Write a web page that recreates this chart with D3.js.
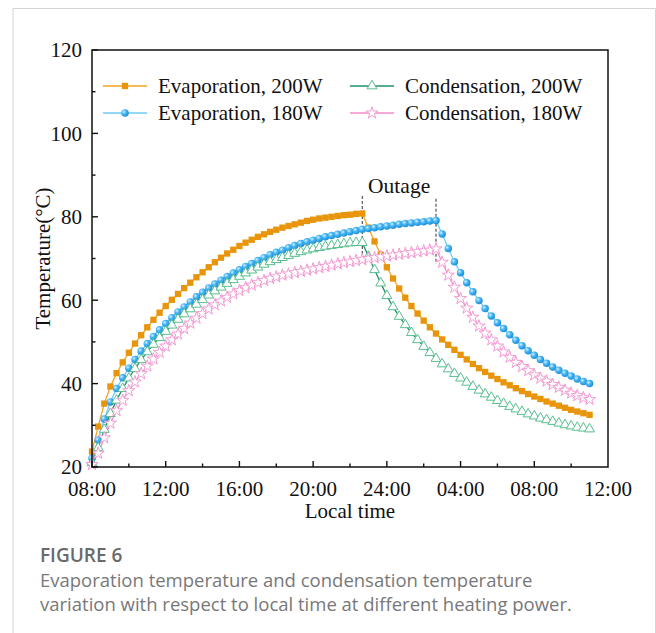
<!DOCTYPE html>
<html>
<head>
<meta charset="utf-8">
<script src="https://cdn.jsdelivr.net/npm/d3@7/dist/d3.min.js"></script>
<style>
  body { margin: 0; background: #fff; }
  svg text { font-family: "Liberation Serif", "Times New Roman", serif; fill: #111; }
  .caption { font-family: "Open Sans", "Noto Sans", sans-serif; }
</style>
</head>
<body>
<svg id="chart" width="656" height="633"></svg>
<script>
// samples every 20 min, starting 08:00, ending 11:00 next day
const startHour = 8, stepMin = 20;

// Evaporation, 200W (heating until 22:40, then outage)
const evap200 = [
  23.7, 29.7, 35.2, 39.3, 42.5, 45.1, 47.4, 49.6, 51.6, 53.5,
  55.3, 57.0, 58.6, 60.1, 61.5, 62.9, 64.2, 65.5, 66.7, 67.9,
  69.1, 70.2, 71.2, 72.1, 73.0, 73.8, 74.5, 75.2, 75.8, 76.4,
  76.9, 77.4, 77.8, 78.2, 78.6, 79.0, 79.3, 79.6, 79.8, 80.0,
  80.2, 80.4, 80.5, 80.7, 80.8,
  77.4, 74.1, 70.9, 67.9, 65.2, 62.8, 60.6, 58.6, 56.8, 55.1,
  53.5, 52.0, 50.6, 49.3, 48.1, 46.9, 45.8, 44.7, 43.7, 42.8,
  41.9, 41.1, 40.3, 39.6, 38.9, 38.2, 37.5, 36.9, 36.3, 35.7,
  35.2, 34.7, 34.2, 33.7, 33.3, 32.9, 32.5
];

// Evaporation, 180W (heating until 02:40)
const evap180 = [
  22.1, 26.5, 31.5, 35.6, 38.8, 41.4, 43.7, 45.8, 47.8, 49.6,
  51.3, 52.9, 54.4, 55.8, 57.2, 58.4, 59.6, 60.8, 61.9, 62.9,
  63.9, 64.8, 65.7, 66.5, 67.3, 68.1, 68.8, 69.5, 70.2, 70.9,
  71.5, 72.0, 72.6, 73.1, 73.6, 74.0, 74.4, 74.8, 75.2, 75.5,
  75.8, 76.1, 76.4, 76.7, 77.0, 77.2, 77.4, 77.6, 77.8, 78.0,
  78.2, 78.4, 78.5, 78.7, 78.8, 79.0, 79.1,
  75.9, 72.4, 69.2, 66.6, 64.2, 62.0, 59.9, 58.0, 56.2, 54.6,
  53.2, 51.7, 50.4, 49.1, 47.9, 46.8, 45.8, 44.9, 44.0, 43.2,
  42.5, 41.8, 41.1, 40.5, 40.0
];

// Condensation, 200W
const cond200 = [
  21.0, 24.6, 29.0, 32.8, 36.0, 38.8, 41.3, 43.6, 45.7, 47.6,
  49.4, 51.0, 52.5, 54.0, 55.4, 56.7, 57.9, 59.0, 60.1, 61.2,
  62.2, 63.1, 64.0, 64.9, 65.7, 66.5, 67.2, 67.9, 68.6, 69.2,
  69.7, 70.2, 70.7, 71.2, 71.6, 72.0, 72.3, 72.6, 72.9, 73.1,
  73.3, 73.5, 73.7, 73.8, 73.8,
  70.5, 67.3, 64.1, 61.1, 58.4, 56.1, 54.1, 52.2, 50.5, 48.9,
  47.4, 46.0, 44.7, 43.5, 42.4, 41.3, 40.3, 39.3, 38.4, 37.5,
  36.7, 35.9, 35.2, 34.5, 33.9, 33.3, 32.7, 32.2, 31.7, 31.3,
  30.9, 30.5, 30.1, 29.8, 29.5, 29.3, 29.1
];

// Condensation, 180W
const cond180 = [
  20.6, 23.3, 27.0, 30.5, 33.5, 36.0, 38.3, 40.4, 42.4, 44.2,
  45.9, 47.5, 49.0, 50.5, 51.9, 53.2, 54.5, 55.7, 56.8, 57.9,
  58.9, 59.8, 60.7, 61.5, 62.3, 63.0, 63.6, 64.2, 64.7, 65.2,
  65.6, 66.0, 66.3, 66.6, 66.9, 67.2, 67.5, 67.8, 68.1, 68.4,
  68.7, 69.0, 69.2, 69.5, 69.7, 70.0, 70.2, 70.4, 70.6, 70.8,
  71.0, 71.2, 71.4, 71.6, 71.8, 72.0, 72.3,
  69.1, 66.0, 63.1, 60.4, 58.1, 55.9, 53.8, 52.1, 50.5, 49.0,
  47.6, 46.3, 45.1, 44.1, 43.1, 42.1, 41.3, 40.6, 39.8, 39.1,
  38.4, 37.7, 37.1, 36.6, 36.2
];

// outage instants (hours since 00:00 of day 1) and dashed marker extent (°C)
const outages = [22 + 40 / 60, 26 + 40 / 60];
const outageSpan = [[85.0, 69.0], [84.3, 68.7]];

const xTickValues = [8, 12, 16, 20, 24, 28, 32, 36];
const xTickLabels = ['08:00', '12:00', '16:00', '20:00', '24:00', '04:00', '08:00', '12:00'];
const yTickValues = [20, 40, 60, 80, 100, 120];

const seriesNames = ['Evaporation, 200W', 'Evaporation, 180W', 'Condensation, 200W', 'Condensation, 180W'];

const svg = d3.select('#chart');

// page frame
svg.append('path')
  .attr('d', 'M13,633 V8.5 H655.5 V633')
  .attr('fill', 'none')
  .attr('stroke', '#d4d4d4')
  .attr('stroke-width', 1);

const margin = { left: 92, right: 608, top: 50, bottom: 467 };

const x = d3.scaleLinear().domain([8, 36]).range([margin.left, margin.right]);
const y = d3.scaleLinear().domain([20, 120]).range([margin.bottom, margin.top]);

const defs = svg.append('defs');
const grad = defs.append('radialGradient')
  .attr('id', 'ball').attr('cx', '35%').attr('cy', '35%').attr('r', '65%');
grad.append('stop').attr('offset', '0%').attr('stop-color', '#d8f1ff');
grad.append('stop').attr('offset', '45%').attr('stop-color', '#47b7f4');
grad.append('stop').attr('offset', '100%').attr('stop-color', '#1f8fd8');

const styles = [
  { data: evap200, line: '#F2A41E', symbol: d3.symbolSquare, size: 40, fill: '#E8950C', stroke: 'none' },
  { data: evap180, line: '#6ECBF7', symbol: d3.symbolCircle, size: 44, fill: 'url(#ball)', stroke: 'none' },
  { data: cond200, line: '#23906A', symbol: d3.symbolTriangle, size: 42, fill: '#fff', stroke: '#58BE8E' },
  { data: cond180, line: '#F08CCB', symbol: d3.symbolStar, size: 46, fill: '#fff', stroke: '#F29BD2' }
];

const timeOf = i => startHour + i * stepMin / 60;

const line = d3.line()
  .x((d, i) => x(timeOf(i)))
  .y(d => y(d));

// outage markers
outages.forEach((t, k) => {
  svg.append('line')
    .attr('x1', x(t)).attr('x2', x(t))
    .attr('y1', y(outageSpan[k][0])).attr('y2', y(outageSpan[k][1]))
    .attr('stroke', '#444').attr('stroke-width', 1.1)
    .attr('stroke-dasharray', '3,2');
});

svg.append('text')
  .attr('x', (x(outages[0]) + x(outages[1])) / 2)
  .attr('y', 193)
  .attr('text-anchor', 'middle')
  .style('font-size', '21.5px')
  .text('Outage');

styles.forEach(s => {
  svg.append('path')
    .datum(s.data)
    .attr('d', line)
    .attr('fill', 'none')
    .attr('stroke', s.line)
    .attr('stroke-width', 1.3);
});

styles.forEach(s => {
  svg.append('g').selectAll('path')
    .data(s.data)
    .join('path')
    .attr('transform', (d, i) => `translate(${x(timeOf(i))},${y(d)})`)
    .attr('d', d3.symbol(s.symbol, s.size))
    .attr('fill', s.fill)
    .attr('stroke', s.stroke)
    .attr('stroke-width', 1);
});

// axes box
svg.append('rect')
  .attr('x', margin.left).attr('y', margin.top)
  .attr('width', margin.right - margin.left)
  .attr('height', margin.bottom - margin.top)
  .attr('fill', 'none')
  .attr('stroke', '#111')
  .attr('stroke-width', 1.5);

// x ticks (inward), minor every 2 h
const xAxis = svg.append('g');
d3.range(8, 36, 2).forEach(h => {
  const major = h % 4 === 0;
  xAxis.append('line')
    .attr('x1', x(h)).attr('x2', x(h))
    .attr('y1', margin.bottom).attr('y2', margin.bottom - (major ? 6 : 3.5))
    .attr('stroke', '#111').attr('stroke-width', 1.4);
});
xAxis.selectAll('text')
  .data(xTickValues)
  .join('text')
  .attr('x', d => x(d))
  .attr('y', 496)
  .attr('text-anchor', 'middle')
  .style('font-size', '21px')
  .text((d, i) => xTickLabels[i]);

// y ticks
const yAxis = svg.append('g');
d3.range(20, 121, 10).forEach(v => {
  const major = v % 20 === 0;
  yAxis.append('line')
    .attr('x1', margin.left).attr('x2', margin.left + (major ? 6 : 3.5))
    .attr('y1', y(v)).attr('y2', y(v))
    .attr('stroke', '#111').attr('stroke-width', 1.4);
});
yAxis.selectAll('text')
  .data(yTickValues)
  .join('text')
  .attr('x', 82)
  .attr('y', d => y(d))
  .attr('dy', '0.35em')
  .attr('text-anchor', 'end')
  .style('font-size', '21px')
  .text(d => d);

svg.append('text')
  .attr('x', (margin.left + margin.right) / 2)
  .attr('y', 518)
  .attr('text-anchor', 'middle')
  .style('font-size', '21px')
  .text('Local time');

svg.append('text')
  .attr('transform', `translate(50,${(margin.top + margin.bottom) / 2}) rotate(-90)`)
  .attr('text-anchor', 'middle')
  .style('font-size', '21px')
  .text('Temperature(°C)');

// legend
const legendPos = [
  { lx: 103, ly: 86 }, { lx: 103, ly: 113 },
  { lx: 350, ly: 86 }, { lx: 350, ly: 113 }
];
styles.forEach((s, i) => {
  const p = legendPos[i];
  const g = svg.append('g');
  g.append('line')
    .attr('x1', p.lx).attr('x2', p.lx + 44)
    .attr('y1', p.ly).attr('y2', p.ly)
    .attr('stroke', s.line).attr('stroke-width', 1.3);
  g.append('path')
    .attr('transform', `translate(${p.lx + 22},${p.ly})`)
    .attr('d', d3.symbol(s.symbol, s.size))
    .attr('fill', s.fill)
    .attr('stroke', s.stroke);
  g.append('text')
    .attr('x', p.lx + 55)
    .attr('y', p.ly)
    .attr('dy', '0.35em')
    .style('font-size', '21px')
    .text(seriesNames[i]);
});

// caption
svg.append('text')
  .attr('class', 'caption')
  .attr('x', 40).attr('y', 562)
  .style('font-size', '19px')
  .style('font-weight', '600')
  .style('fill', '#6a6a6a')
  .text('FIGURE 6');
const captionLines = [
  'Evaporation temperature and condensation temperature',
  'variation with respect to local time at different heating power.'
];
captionLines.forEach((t, i) => {
  svg.append('text')
    .attr('class', 'caption')
    .attr('x', 40).attr('y', 587 + i * 23.5)
    .style('font-size', '18.5px')
    .style('fill', '#787878')
    .text(t);
});
</script>
</body>
</html>
